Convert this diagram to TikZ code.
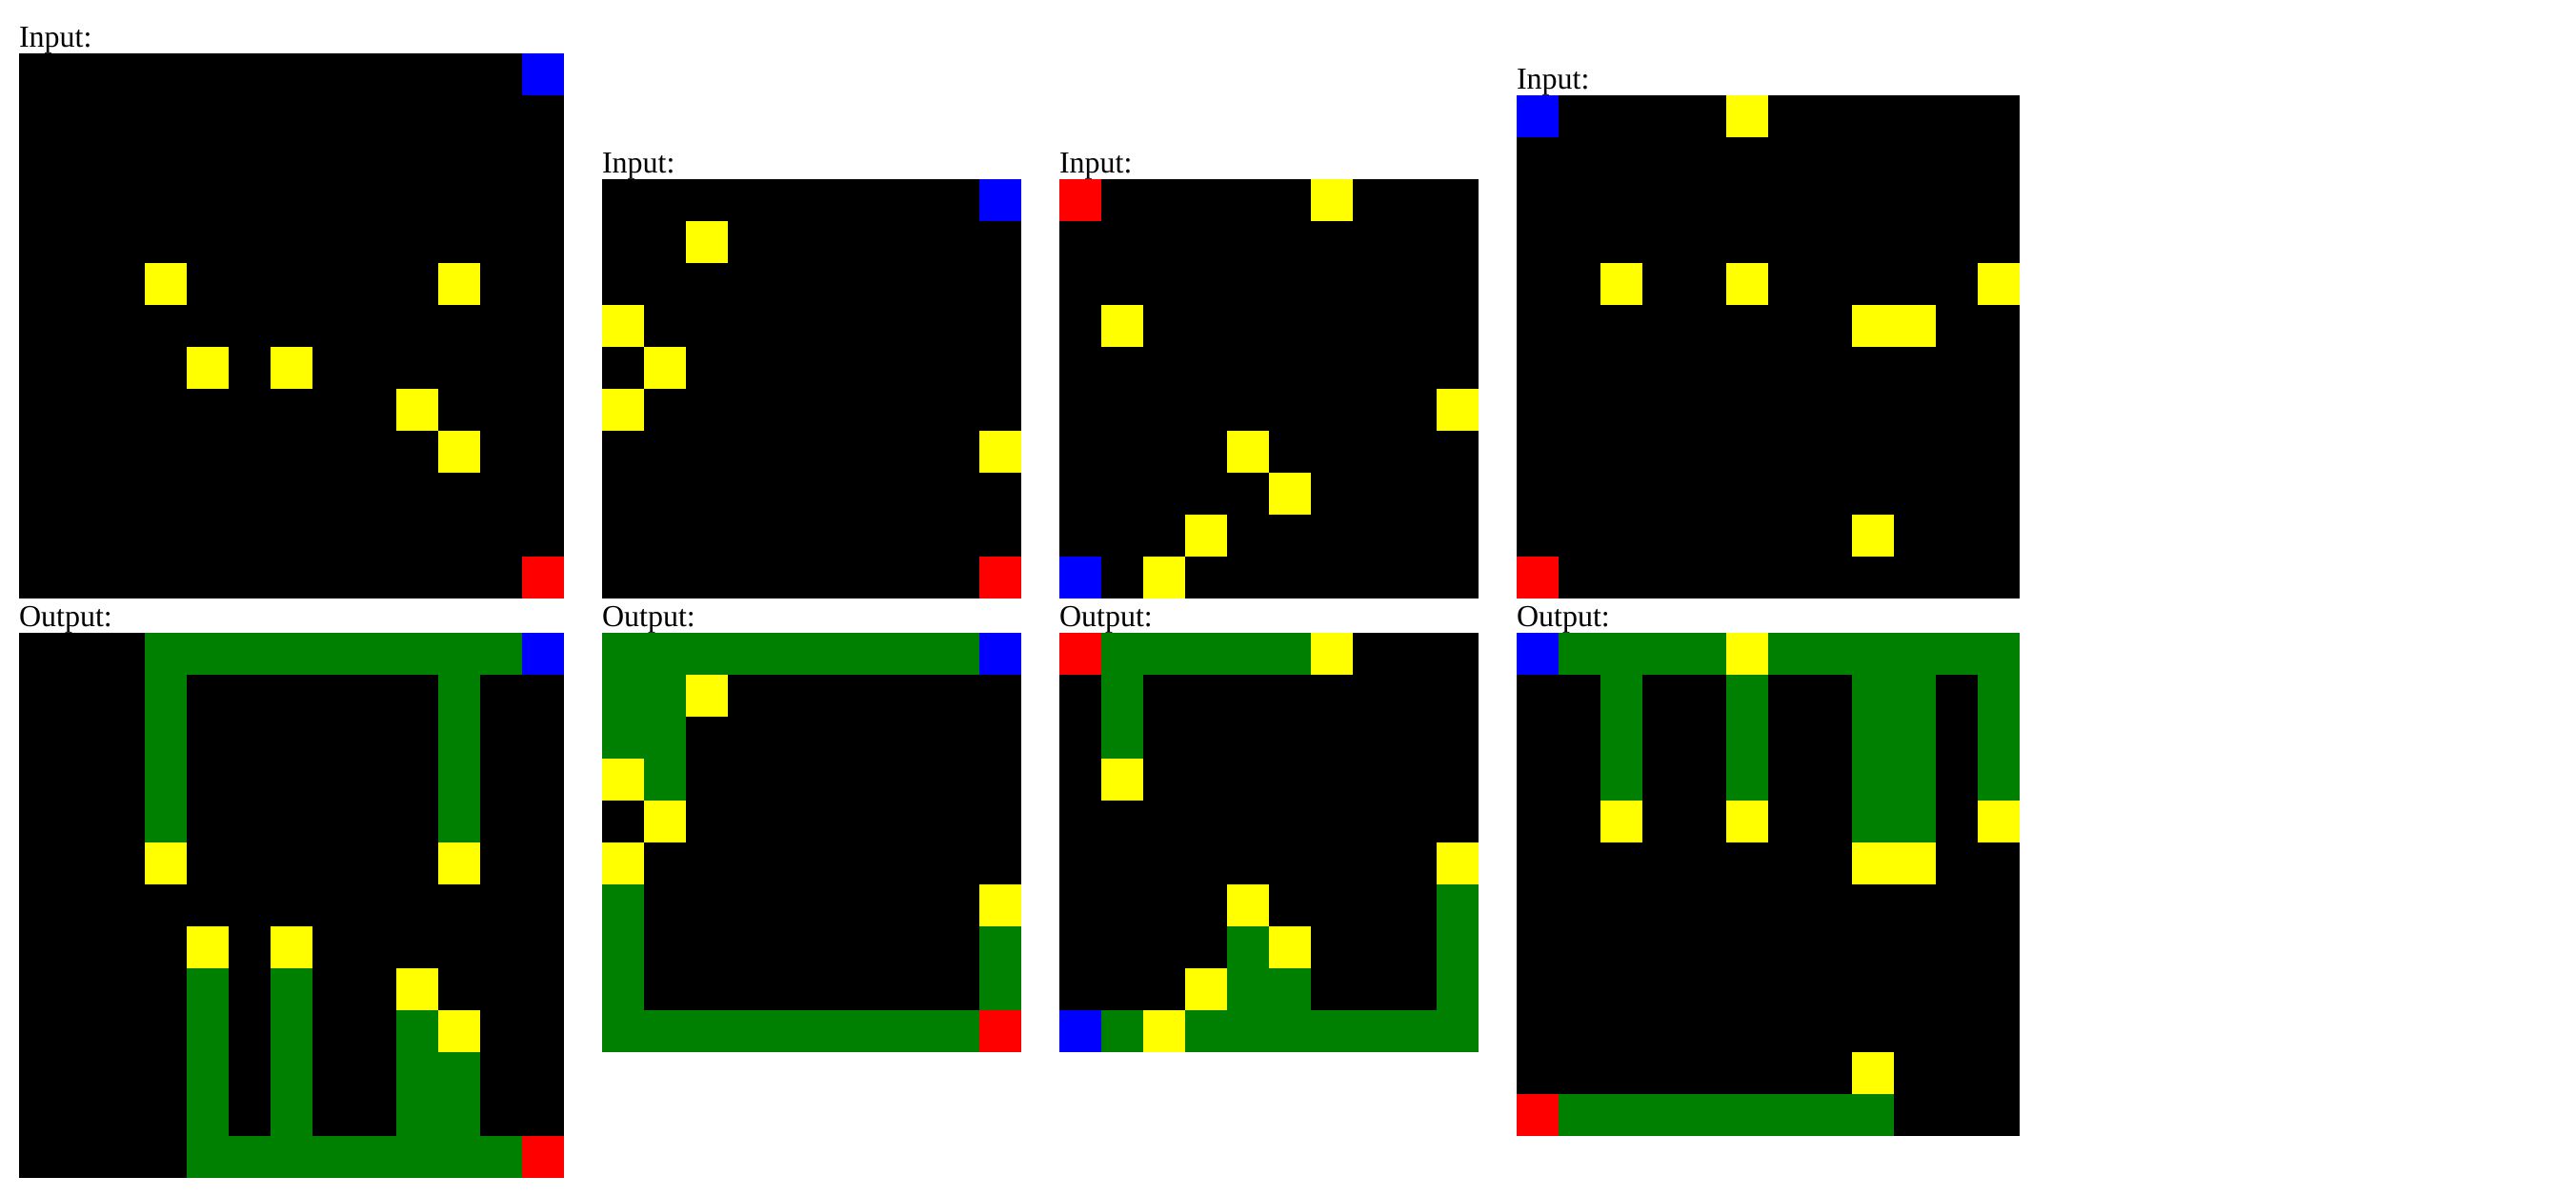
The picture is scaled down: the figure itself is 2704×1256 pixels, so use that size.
\documentclass[tikz,border=0pt]{standalone}
\usepackage{fontspec}
\setmainfont{Liberation Serif}
\definecolor{arcgreen}{HTML}{008000}
\definecolor{arcyellow}{HTML}{FFFF00}
\definecolor{arcblue}{HTML}{0000FF}
\definecolor{arcred}{HTML}{FF0000}
\tikzset{
  lbl/.style={anchor=base west, inner sep=0pt, outer sep=0pt, font=\fontsize{16}{19}\selectfont},
  gridsc/.style={x=22pt, y=-22pt},
}
\newcommand\ycells[1]{\foreach \cc/\rr in {#1} {\fill[arcyellow] (\cc,\rr) rectangle ++(1,1);}}
\newcommand\onecell[3]{\fill[#1] (#2,#3) rectangle ++(1,1);}
\newcommand\grun[4]{\fill[arcgreen] (#1,#2) rectangle (#3,#4);}
\begin{document}
\begin{tikzpicture}[x=0.5pt, y=-0.5pt]
\fill[white] (0,0) rectangle (2704,1256);
\useasboundingbox (0,0) rectangle (2704,1256);

% ---------- Pair 1 ----------
\node[lbl] (in1) at (20,50) {Input:};
\begin{scope}[shift={(20,56)}, gridsc]
  \fill[black] (0,0) rectangle (13,13);
  \onecell{arcblue}{12}{0}
  \onecell{arcred}{12}{12}
  \ycells{3/5,10/5,4/7,6/7,9/8,10/9}
\end{scope}
\node[lbl] (out1) at (20,658) {Output:};
\begin{scope}[shift={(20,664)}, gridsc]
  \fill[black] (0,0) rectangle (13,13);
  \grun{3}{0}{12}{1}
  \grun{3}{1}{4}{5}
  \grun{10}{1}{11}{5}
  \grun{4}{8}{5}{12}
  \grun{6}{8}{7}{12}
  \grun{9}{9}{10}{12}
  \grun{10}{10}{11}{12}
  \grun{4}{12}{12}{13}
  \onecell{arcblue}{12}{0}
  \onecell{arcred}{12}{12}
  \ycells{3/5,10/5,4/7,6/7,9/8,10/9}
\end{scope}

% ---------- Pair 2 ----------
\node[lbl] (in2) at (632,182) {Input:};
\begin{scope}[shift={(632,188)}, gridsc]
  \fill[black] (0,0) rectangle (10,10);
  \onecell{arcblue}{9}{0}
  \onecell{arcred}{9}{9}
  \ycells{2/1,0/3,1/4,0/5,9/6}
\end{scope}
\node[lbl] (out2) at (632,658) {Output:};
\begin{scope}[shift={(632,664)}, gridsc]
  \fill[black] (0,0) rectangle (10,10);
  \grun{0}{0}{9}{1}
  \grun{0}{1}{2}{3}
  \grun{1}{3}{2}{4}
  \grun{0}{6}{1}{9}
  \grun{9}{7}{10}{9}
  \grun{0}{9}{9}{10}
  \onecell{arcblue}{9}{0}
  \onecell{arcred}{9}{9}
  \ycells{2/1,0/3,1/4,0/5,9/6}
\end{scope}

% ---------- Pair 3 ----------
\node[lbl] (in3) at (1112,182) {Input:};
\begin{scope}[shift={(1112,188)}, gridsc]
  \fill[black] (0,0) rectangle (10,10);
  \onecell{arcred}{0}{0}
  \onecell{arcblue}{0}{9}
  \ycells{6/0,1/3,9/5,4/6,5/7,3/8,2/9}
\end{scope}
\node[lbl] (out3) at (1112,658) {Output:};
\begin{scope}[shift={(1112,664)}, gridsc]
  \fill[black] (0,0) rectangle (10,10);
  \grun{1}{0}{6}{1}
  \grun{1}{1}{2}{3}
  \grun{9}{6}{10}{9}
  \grun{4}{7}{5}{8}
  \grun{4}{8}{6}{9}
  \grun{1}{9}{2}{10}
  \grun{3}{9}{10}{10}
  \onecell{arcred}{0}{0}
  \onecell{arcblue}{0}{9}
  \ycells{6/0,1/3,9/5,4/6,5/7,3/8,2/9}
\end{scope}

% ---------- Pair 4 ----------
\node[lbl] (in4) at (1592,94) {Input:};
\begin{scope}[shift={(1592,100)}, gridsc]
  \fill[black] (0,0) rectangle (12,12);
  \onecell{arcblue}{0}{0}
  \onecell{arcred}{0}{11}
  \ycells{5/0,2/4,5/4,11/4,8/5,9/5,8/10}
\end{scope}
\node[lbl] (out4) at (1592,658) {Output:};
\begin{scope}[shift={(1592,664)}, gridsc]
  \fill[black] (0,0) rectangle (12,12);
  \grun{1}{0}{5}{1}
  \grun{6}{0}{12}{1}
  \grun{2}{1}{3}{4}
  \grun{5}{1}{6}{4}
  \grun{8}{1}{10}{5}
  \grun{11}{1}{12}{4}
  \grun{1}{11}{9}{12}
  \onecell{arcblue}{0}{0}
  \onecell{arcred}{0}{11}
  \ycells{5/0,2/4,5/4,11/4,8/5,9/5,8/10}
\end{scope}
\end{tikzpicture}
\end{document}
